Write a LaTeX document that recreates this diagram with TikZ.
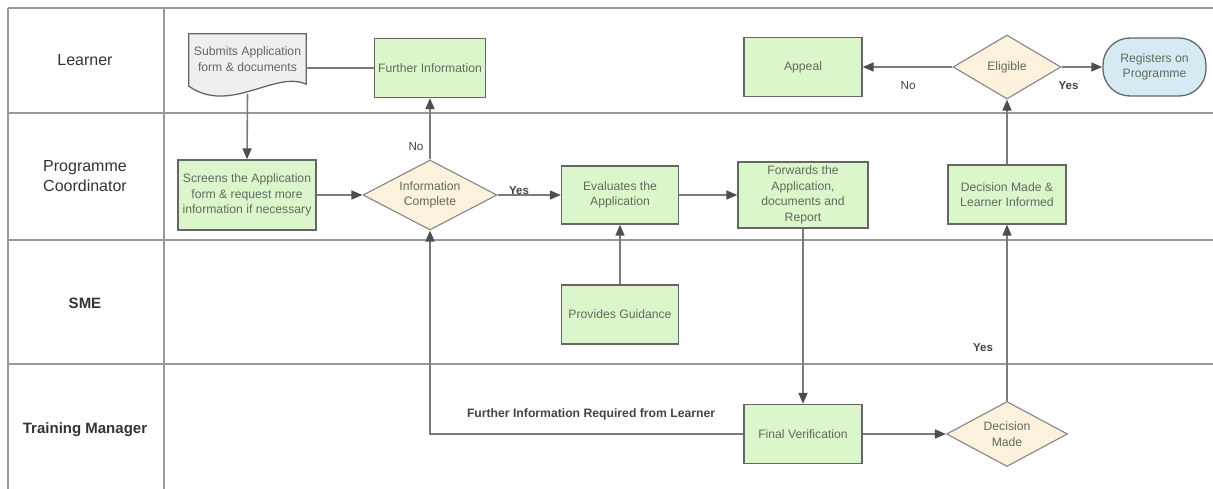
\documentclass[tikz,border=0pt]{standalone}
\usepackage{fontspec}
\setmainfont{Liberation Sans}
\usetikzlibrary{arrows.meta,shapes.geometric}
\definecolor{boxgreen}{HTML}{DCF6CC}
\definecolor{diafill}{HTML}{FCF1DC}
\definecolor{docfill}{HTML}{EFEFEF}
\definecolor{regfill}{HTML}{D6EAF3}
\definecolor{edgecol}{HTML}{666666}
\definecolor{linecol}{HTML}{7C7C7C}
\definecolor{tipcol}{HTML}{4E4E4E}
\definecolor{lanecol}{HTML}{999999}
\definecolor{txtcol}{HTML}{626A5E}
\definecolor{darkcol}{HTML}{333333}
\definecolor{labcol}{HTML}{444444}
\begin{document}
\begin{tikzpicture}[x=1pt,y=-1pt,
  laneline/.style={draw=lanecol,line width=1.4pt},
  lanelabel/.style={text=darkcol,font=\fontsize{16}{19.5}\selectfont,align=center},
  lanelabelb/.style={text=darkcol,font=\fontsize{15}{18}\selectfont\bfseries,align=center},
  nodetext/.style={text=txtcol,font=\fontsize{12.2}{15.5}\selectfont,align=center},
  proc/.style={nodetext,rectangle,draw=edgecol,fill=boxgreen,line width=1.3pt,inner sep=1pt},
  dec/.style={nodetext,diamond,draw=edgecol!80,fill=diafill,line width=1.1pt,inner sep=0pt},
  conn/.style={draw=linecol,line width=1.6pt,-{Triangle[length=11pt,width=9pt,color=tipcol]}},
  plainline/.style={draw=linecol,line width=1.6pt},
  yeslabel/.style={text=labcol,font=\fontsize{11.5}{13}\selectfont\bfseries,inner sep=0pt},
  nolabel/.style={text=labcol,font=\fontsize{11.7}{13}\selectfont,inner sep=0pt},
  longlabel/.style={text=labcol,font=\fontsize{12.2}{14}\selectfont\bfseries,inner sep=0pt}
]
\useasboundingbox (0,0) rectangle (1213,489);
% swimlane frame
\draw[laneline] (8,8) -- (1213,8);
\draw[laneline] (8,113) -- (1213,113);
\draw[laneline] (8,240) -- (1213,240);
\draw[laneline] (8,364) -- (1213,364);
\draw[laneline] (8,8) -- (8,489);
\draw[laneline] (164,8) -- (164,489);
% lane labels
\node[lanelabel] (lnL) at (85,60) {Learner};
\node[lanelabel] (lnP) at (85,176) {Programme\\Coordinator};
\node[lanelabelb] (lnS) at (85,303) {SME};
\node[lanelabelb] (lnT) at (85,430) {Training Manager};
% document shape (Submits Application)
\node[nodetext,minimum width=117pt,minimum height=56pt,inner sep=0pt] (doc) at (247.5,62) {};
\filldraw[fill=docfill,draw=edgecol,line width=1.3pt]
  (doc.north west) -- (doc.north east) -- ([yshift=6pt]doc.south east)
  .. controls (275,70) and (230,115) .. ([yshift=4pt]doc.south west) -- cycle;
\node[nodetext] (doctext) at (247.5,59) {Submits Application\\form \& documents};
% process nodes
\node[proc,minimum width=111pt,minimum height=59pt] (fi) at (430,68) {Further Information};
\node[proc,minimum width=138pt,minimum height=70pt] (scr) at (247,195) {Screens the Application\\form \& request more\\information if necessary};
\node[dec,minimum width=134pt,minimum height=70pt,aspect=1.9] (ic) at (430,195) {Information\\Complete};
\node[proc,minimum width=117pt,minimum height=58pt] (ev) at (620,195) {Evaluates the\\Application};
\node[proc,minimum width=130pt,minimum height=66pt] (fw) at (803,195) {Forwards the\\Application,\\documents and\\Report};
\node[proc,minimum width=118pt,minimum height=59pt] (dm) at (1007,194.5) {Decision Made \&\\Learner Informed};
\node[proc,minimum width=118pt,minimum height=59pt] (ap) at (803,67) {Appeal};
\node[dec,minimum width=108pt,minimum height=64pt,aspect=1.69] (el) at (1007,67) {Eligible};
\node[proc,fill=regfill,rounded corners=27pt,minimum width=103pt,minimum height=58pt] (reg) at (1154.5,67) {Registers on\\Programme};
\node[proc,minimum width=117pt,minimum height=59pt] (pg) at (620,314.5) {Provides Guidance};
\node[proc,minimum width=118pt,minimum height=59pt] (fv) at (803,434) {Final Verification};
\node[dec,minimum width=121pt,minimum height=65pt,aspect=1.86] (dd) at (1007,434) {Decision\\Made};
% connectors
\draw[plainline] (fi.west -| doc.east) -- (fi.west);
\draw[conn] ([yshift=-32pt]doc.center) -- (scr.north);
\draw[conn] (scr.east) -- (ic.west);
\draw[conn] (ic.north) -- (fi.south) node[nolabel,pos=0.21,xshift=-14pt] {No};
\draw[conn] (ic.east) -- (ev.west) node[yeslabel,pos=0.34,yshift=4.5pt] {Yes};
\draw[conn] (ev.east) -- (fw.west);
\draw[conn] (pg.north) -- (ev.south);
\draw[conn] (fw.south) -- (fv.north);
\draw[conn] (fv.east) -- (dd.west);
\draw[conn] (dd.north) -- (dm.south) node[yeslabel,pos=0.30,xshift=-24pt] {Yes};
\draw[conn] (dm.north) -- (el.south);
\draw[conn] (el.west) -- (ap.east) node[nolabel,pos=0.5,xshift=0.5pt,yshift=-19pt] {No};
\draw[conn] (el.east) -- (reg.west) node[yeslabel,pos=0.17,yshift=-19pt] {Yes};
\draw[conn] (fv.west) -| (ic.south) node[longlabel,pos=0.243,yshift=19.5pt] {Further Information Required from Learner};
\end{tikzpicture}
\end{document}
